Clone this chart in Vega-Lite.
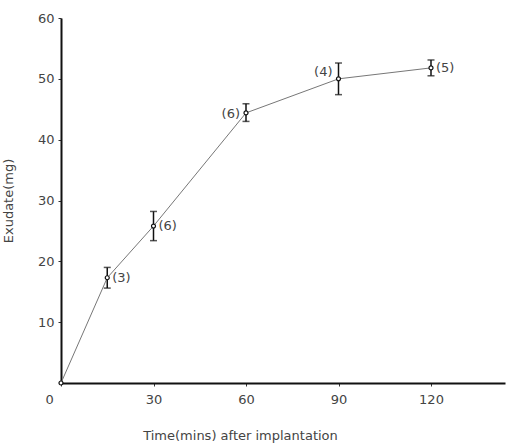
{
  "$schema": "https://vega.github.io/schema/vega-lite/v6.json",
  "autosize": "none",
  "width": 444,
  "height": 365,
  "padding": {"left": 61, "top": 18, "right": 11, "bottom": 63},
  "background": "white",
  "config": {
    "view": {"stroke": null},
    "axis": {"labelFont": "DejaVu Sans", "titleFont": "DejaVu Sans", "labelColor": "#444", "titleColor": "#444", "labelFontSize": 13, "titleFontSize": 13, "titleFontWeight": "normal", "grid": false}
  },
  "data": {
    "values": [
      {"t": 0, "mean": 0},
      {"t": 15, "mean": 17.3, "lo": 15.6, "hi": 19.0, "label": "(3)"},
      {"t": 30, "mean": 25.8, "lo": 23.4, "hi": 28.2, "label": "(6)"},
      {"t": 60, "mean": 44.4, "lo": 43.0, "hi": 45.9, "label": "(6)"},
      {"t": 90, "mean": 50.0, "lo": 47.4, "hi": 52.6, "label": "(4)"},
      {"t": 120, "mean": 51.8, "lo": 50.5, "hi": 53.1, "label": "(5)"}
    ]
  },
  "encoding": {
    "x": {"field": "t", "type": "quantitative", "scale": {"domain": [0, 144], "nice": false},
      "axis": {"values": [0, 30, 60, 90, 120], "title": "Time(mins) after implantation", "domainColor": "#111", "domainWidth": 2, "tickColor": "#333", "tickSize": 3, "labelPadding": 7,
        "labelOffset": {"condition": {"test": "datum.value == 0", "value": -16}, "value": 0},
        "titleX": 179, "titleY": 46}},
    "y": {"field": "mean", "type": "quantitative", "scale": {"domain": [0, 60], "nice": false},
      "axis": {"values": [10, 20, 30, 40, 50, 60], "title": "Exudate(mg)", "domainColor": "#111", "domainWidth": 2, "tickColor": "#333", "tickSize": 3, "labelPadding": 4, "titleX": -46}}
  },
  "layer": [
    {"mark": {"type": "line", "color": "#777", "strokeWidth": 1}},
    {"transform": [{"filter": "datum.lo != null"}],
     "mark": {"type": "rule", "color": "#111", "strokeWidth": 1.5},
     "encoding": {"y": {"field": "lo", "type": "quantitative"}, "y2": {"field": "hi"}}},
    {"transform": [{"filter": "datum.lo != null"}],
     "mark": {"type": "tick", "color": "#111", "orient": "horizontal", "size": 7, "thickness": 1.5},
     "encoding": {"y": {"field": "lo", "type": "quantitative"}}},
    {"transform": [{"filter": "datum.lo != null"}],
     "mark": {"type": "tick", "color": "#111", "orient": "horizontal", "size": 7, "thickness": 1.5},
     "encoding": {"y": {"field": "hi", "type": "quantitative"}}},
    {"mark": {"type": "point", "shape": "circle", "filled": true, "fill": "white", "stroke": "#111", "strokeWidth": 1.2, "size": 16, "opacity": 1}},
    {"transform": [{"filter": "datum.t == 15 || datum.t == 30 || datum.t == 120"}],
     "mark": {"type": "text", "align": "left", "dx": 5, "font": "DejaVu Sans", "fontSize": 13, "color": "#444"},
     "encoding": {"text": {"field": "label"}}},
    {"transform": [{"filter": "datum.t == 60"}],
     "mark": {"type": "text", "align": "right", "dx": -6, "dy": 1, "font": "DejaVu Sans", "fontSize": 13, "color": "#444"},
     "encoding": {"text": {"field": "label"}}},
    {"transform": [{"filter": "datum.t == 90"}],
     "mark": {"type": "text", "align": "right", "dx": -6, "dy": -7, "font": "DejaVu Sans", "fontSize": 13, "color": "#444"},
     "encoding": {"text": {"field": "label"}}}
  ]
}
